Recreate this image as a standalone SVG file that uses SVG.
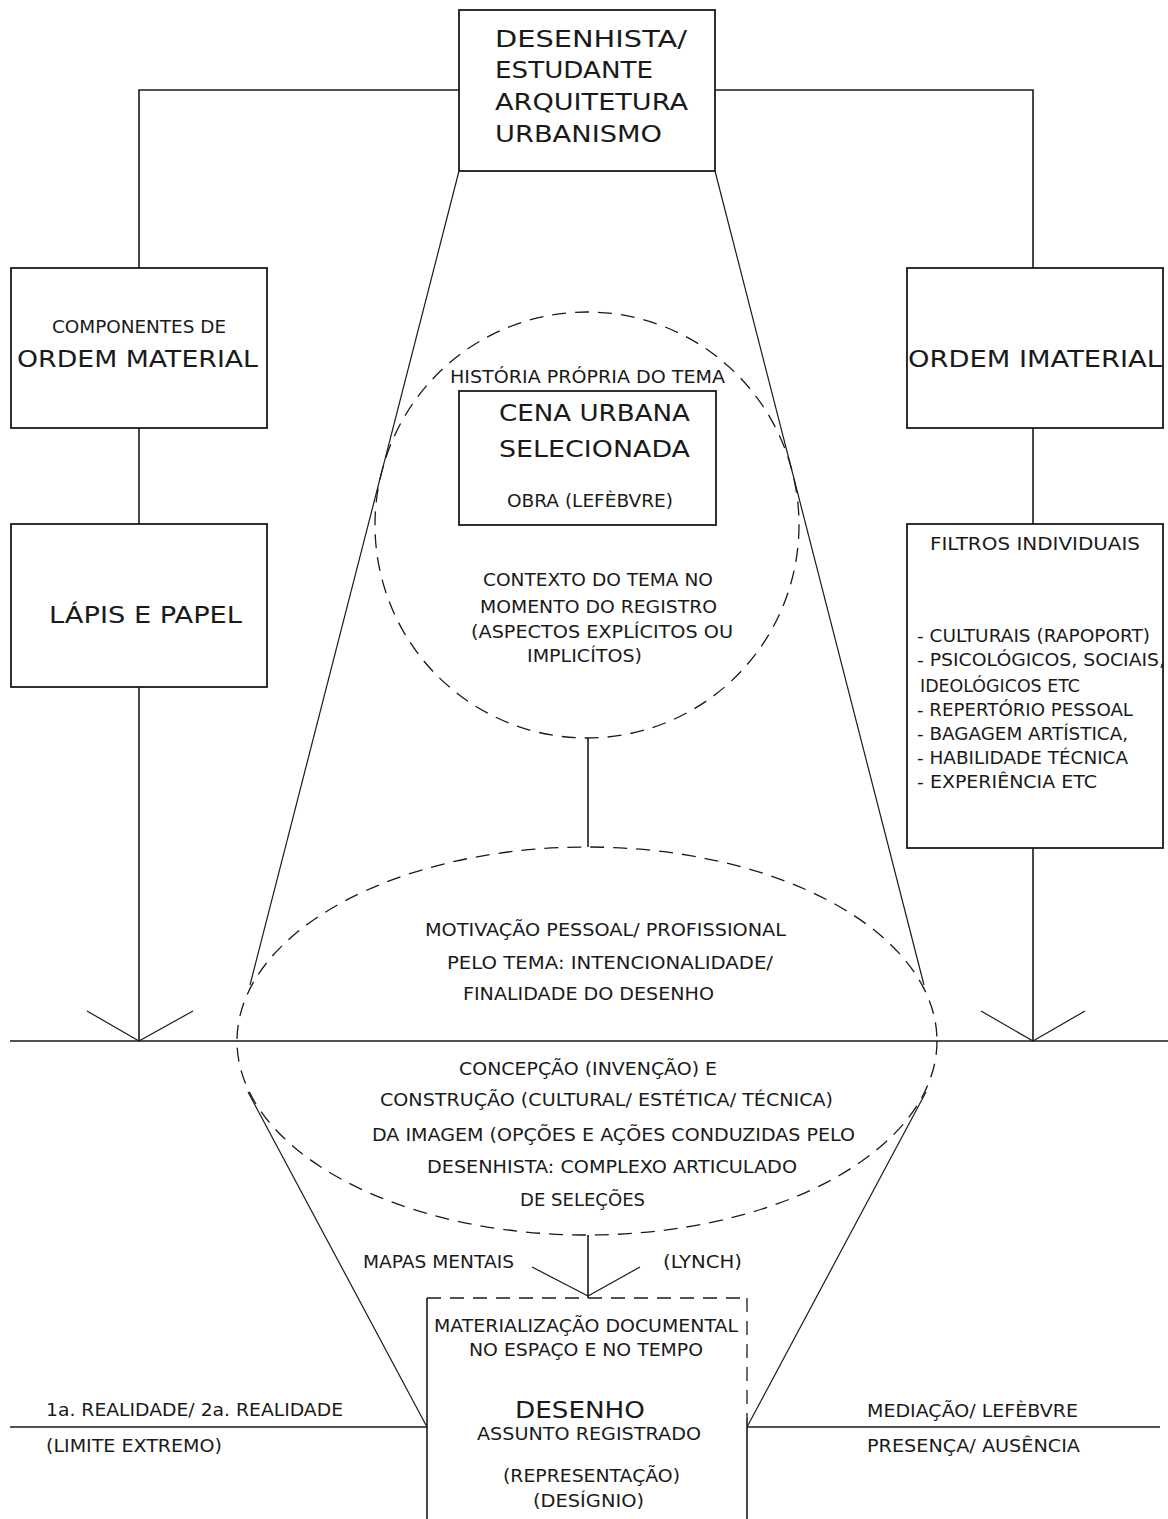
<svg xmlns="http://www.w3.org/2000/svg" width="1168" height="1519" viewBox="0 0 1168 1519">
<style>
.bx{fill:#fff;stroke:#1a1a1a;stroke-width:1.8}
.ln{fill:none;stroke:#1a1a1a;stroke-width:1.6}
.th{fill:none;stroke:#1a1a1a;stroke-width:1.2}
.ds{fill:none;stroke:#1a1a1a;stroke-width:1.3;stroke-dasharray:14 9}
text{font-family:"DejaVu Sans","Liberation Sans",sans-serif;fill:#1a1a1a}
.b{font-size:23px}
.s{font-size:18px}
</style>
<rect width="1168" height="1519" fill="#fff"/>
<g id="connectors">
<polyline class="ln" points="459,90 139,90 139,268"/>
<polyline class="ln" points="715,90 1033,90 1033,268"/>
<line class="ln" x1="139" y1="428" x2="139" y2="524"/>
<line class="ln" x1="139" y1="687" x2="139" y2="1041"/>
<line class="ln" x1="1033" y1="428" x2="1033" y2="524"/>
<line class="ln" x1="1033" y1="848" x2="1033" y2="1041"/>
<line class="th" x1="87" y1="1011" x2="139" y2="1041"/>
<line class="th" x1="193" y1="1011" x2="139" y2="1041"/>
<line class="th" x1="981" y1="1011" x2="1033" y2="1041"/>
<line class="th" x1="1085" y1="1011" x2="1033" y2="1041"/>
<line class="ln" x1="10" y1="1041" x2="1168" y2="1041"/>
<line class="th" x1="459" y1="171" x2="250" y2="985"/>
<line class="th" x1="715" y1="171" x2="924" y2="985"/>
<line class="th" x1="248" y1="1092" x2="427" y2="1427"/>
<line class="th" x1="926" y1="1092" x2="747" y2="1427"/>
<line class="ln" x1="588" y1="738" x2="588" y2="847"/>
<line class="ln" x1="588" y1="1235" x2="588" y2="1298"/>
<line class="th" x1="532" y1="1267" x2="588" y2="1296"/>
<line class="th" x1="640" y1="1267" x2="588" y2="1296"/>
<line class="ln" x1="10" y1="1427" x2="427" y2="1427"/>
<line class="ln" x1="747" y1="1427" x2="1160" y2="1427"/>
</g>
<g id="node-desenhista">
<rect class="bx" x="459" y="10" width="256" height="161"/>
<text class="b" x="495" y="47" textLength="192" lengthAdjust="spacingAndGlyphs">DESENHISTA/</text>
<text class="b" x="495" y="78" textLength="158" lengthAdjust="spacingAndGlyphs">ESTUDANTE</text>
<text class="b" x="495" y="110" textLength="193" lengthAdjust="spacingAndGlyphs">ARQUITETURA</text>
<text class="b" x="495" y="142" textLength="167" lengthAdjust="spacingAndGlyphs">URBANISMO</text>
</g>
<g id="node-ordem-material">
<rect class="bx" x="11" y="268" width="256" height="160"/>
<text class="s" x="52" y="333" textLength="174" lengthAdjust="spacingAndGlyphs">COMPONENTES DE</text>
<text class="b" x="17" y="367" textLength="241" lengthAdjust="spacingAndGlyphs">ORDEM MATERIAL</text>
</g>
<g id="node-lapis">
<rect class="bx" x="11" y="524" width="256" height="163"/>
<text class="b" x="49" y="623" textLength="193" lengthAdjust="spacingAndGlyphs">LÁPIS E PAPEL</text>
</g>
<g id="node-ordem-imaterial">
<rect class="bx" x="907" y="268" width="256" height="160"/>
<text class="b" x="908" y="367" textLength="254" lengthAdjust="spacingAndGlyphs">ORDEM IMATERIAL</text>
</g>
<g id="node-filtros">
<rect class="bx" x="907" y="524" width="256" height="324"/>
<text class="s" x="930" y="550" textLength="210" lengthAdjust="spacingAndGlyphs">FILTROS INDIVIDUAIS</text>
<text class="s" x="917" y="642" textLength="233" lengthAdjust="spacingAndGlyphs">- CULTURAIS (RAPOPORT)</text>
<text class="s" x="917" y="666" textLength="248" lengthAdjust="spacingAndGlyphs">- PSICOLÓGICOS, SOCIAIS,</text>
<text class="s" x="920" y="692" textLength="160" lengthAdjust="spacingAndGlyphs">IDEOLÓGICOS  ETC</text>
<text class="s" x="917" y="716" textLength="216" lengthAdjust="spacingAndGlyphs">- REPERTÓRIO PESSOAL</text>
<text class="s" x="917" y="740" textLength="211" lengthAdjust="spacingAndGlyphs">- BAGAGEM ARTÍSTICA,</text>
<text class="s" x="917" y="764" textLength="211" lengthAdjust="spacingAndGlyphs">- HABILIDADE TÉCNICA</text>
<text class="s" x="917" y="788" textLength="180" lengthAdjust="spacingAndGlyphs">- EXPERIÊNCIA  ETC</text>
</g>
<g id="node-contexto">
<ellipse class="ds" cx="587" cy="525" rx="212" ry="213"/>
<text class="s" x="450" y="383" textLength="275" lengthAdjust="spacingAndGlyphs">HISTÓRIA PRÓPRIA DO TEMA</text>
<text class="s" x="483" y="586" textLength="230" lengthAdjust="spacingAndGlyphs">CONTEXTO DO TEMA NO</text>
<text class="s" x="480" y="613" textLength="237" lengthAdjust="spacingAndGlyphs">MOMENTO DO REGISTRO</text>
<text class="s" x="471" y="638" textLength="262" lengthAdjust="spacingAndGlyphs">(ASPECTOS EXPLÍCITOS OU</text>
<text class="s" x="527" y="662" textLength="115" lengthAdjust="spacingAndGlyphs">IMPLICÍTOS)</text>
</g>
<g id="node-cena">
<rect class="bx" x="459" y="391" width="257" height="134"/>
<text class="b" x="499" y="421" textLength="191" lengthAdjust="spacingAndGlyphs">CENA URBANA</text>
<text class="b" x="499" y="457" textLength="191" lengthAdjust="spacingAndGlyphs">SELECIONADA</text>
<text class="s" x="507" y="507" textLength="166" lengthAdjust="spacingAndGlyphs">OBRA (LEFÈBVRE)</text>
</g>
<g id="node-motivacao">
<ellipse class="ds" cx="587" cy="1041" rx="350" ry="194"/>
<text class="s" x="425" y="936" textLength="361" lengthAdjust="spacingAndGlyphs">MOTIVAÇÃO PESSOAL/  PROFISSIONAL</text>
<text class="s" x="447" y="969" textLength="326" lengthAdjust="spacingAndGlyphs">PELO TEMA:  INTENCIONALIDADE/</text>
<text class="s" x="463" y="1000" textLength="251" lengthAdjust="spacingAndGlyphs">FINALIDADE DO DESENHO</text>
<text class="s" x="459" y="1075" textLength="258" lengthAdjust="spacingAndGlyphs">CONCEPÇÃO (INVENÇÃO) E</text>
<text class="s" x="380" y="1106" textLength="453" lengthAdjust="spacingAndGlyphs">CONSTRUÇÃO (CULTURAL/  ESTÉTICA/  TÉCNICA)</text>
<text class="s" x="372" y="1141" textLength="483" lengthAdjust="spacingAndGlyphs">DA IMAGEM (OPÇÕES E AÇÕES CONDUZIDAS PELO</text>
<text class="s" x="427" y="1173" textLength="370" lengthAdjust="spacingAndGlyphs">DESENHISTA:  COMPLEXO ARTICULADO</text>
<text class="s" x="520" y="1206" textLength="125" lengthAdjust="spacingAndGlyphs">DE SELEÇÕES</text>
</g>
<g id="label-mapas">
<text class="s" x="363" y="1268" textLength="151" lengthAdjust="spacingAndGlyphs">MAPAS  MENTAIS</text>
<text class="s" x="663" y="1268" textLength="79" lengthAdjust="spacingAndGlyphs">(LYNCH)</text>
</g>
<g id="node-desenho">
<rect x="427" y="1298" width="320" height="230" fill="#fff" stroke="none"/>
<line class="ds" x1="427" y1="1298" x2="747" y2="1298"/>
<line class="ln" x1="427" y1="1298" x2="427" y2="1519"/>
<line class="ds" x1="747" y1="1298" x2="747" y2="1418"/>
<line class="ln" x1="747" y1="1418" x2="747" y2="1519"/>
<text class="s" x="434" y="1332" textLength="304" lengthAdjust="spacingAndGlyphs">MATERIALIZAÇÃO DOCUMENTAL</text>
<text class="s" x="469" y="1356" textLength="234" lengthAdjust="spacingAndGlyphs">NO ESPAÇO E NO TEMPO</text>
<text class="b" x="515" y="1418" textLength="130" lengthAdjust="spacingAndGlyphs">DESENHO</text>
<text class="s" x="477" y="1440" textLength="224" lengthAdjust="spacingAndGlyphs">ASSUNTO REGISTRADO</text>
<text class="s" x="503" y="1482" textLength="177" lengthAdjust="spacingAndGlyphs">(REPRESENTAÇÃO)</text>
<text class="s" x="533" y="1507" textLength="111" lengthAdjust="spacingAndGlyphs">(DESÍGNIO)</text>
</g>
<g id="label-realidade">
<text class="s" x="46" y="1416" textLength="297" lengthAdjust="spacingAndGlyphs">1a. REALIDADE/  2a. REALIDADE</text>
<text class="s" x="46" y="1452" textLength="176" lengthAdjust="spacingAndGlyphs">(LIMITE EXTREMO)</text>
</g>
<g id="label-mediacao">
<text class="s" x="867" y="1417" textLength="211" lengthAdjust="spacingAndGlyphs">MEDIAÇÃO/  LEFÈBVRE</text>
<text class="s" x="867" y="1452" textLength="213" lengthAdjust="spacingAndGlyphs">PRESENÇA/  AUSÊNCIA</text>
</g>
</svg>
